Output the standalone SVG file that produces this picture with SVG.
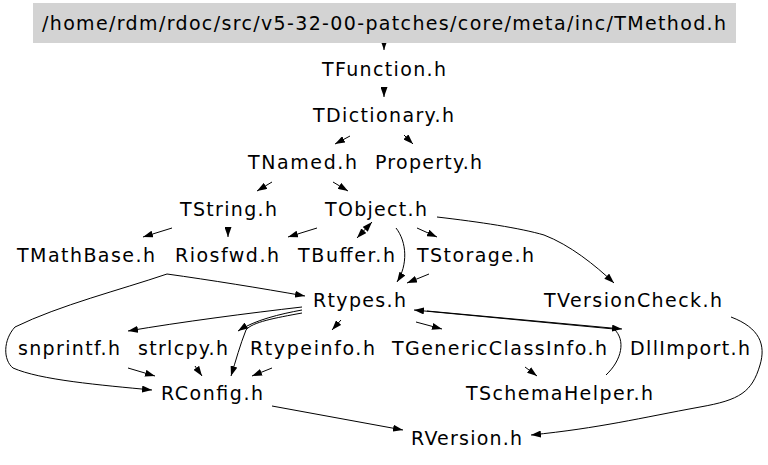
<svg xmlns="http://www.w3.org/2000/svg" width="768" height="465" viewBox="0 0 768 465">
<style>
text{font-family:"DejaVu Sans","Liberation Sans",sans-serif;font-size:19px;fill:#000;text-anchor:middle}
.e{fill:none;stroke:#000;stroke-width:1;marker-end:url(#ah)}
.b{marker-start:url(#ahs)}
</style>
<defs>
<marker id="ah" viewBox="0 0 10 7" refX="10" refY="3.5" markerWidth="10" markerHeight="7" markerUnits="userSpaceOnUse" orient="auto"><path d="M0,0 L10,3.5 L0,7 z" fill="#000"/></marker>
<marker id="ahs" viewBox="0 0 10 7" refX="10" refY="3.5" markerWidth="10" markerHeight="7" markerUnits="userSpaceOnUse" orient="auto-start-reverse"><path d="M0,0 L10,3.5 L0,7 z" fill="#000"/></marker>
</defs>
<rect width="768" height="465" fill="#fff"/>
<g id="connectors">
<path class="e" d="M384,42 L384,50"/>
<path class="e" d="M384,88 L384,97"/>
<path class="e" d="M350,136 L335,144"/>
<path class="e" d="M404,135 L413,144"/>
<path class="e" d="M272,182 L257,191"/>
<path class="e" d="M333,182 L348,191"/>
<path class="e" d="M172,228 L143,237"/>
<path class="e" d="M228,227 L228,237"/>
<path class="e" d="M317,228 L288,237"/>
<path class="e b" d="M372,222 L357,238"/>
<path class="e" d="M417,228 L437,237"/>
<path class="e" d="M396,228 C407,242 408,265 397,282"/>
<path class="e" d="M429,274 L407,283"/>
<path class="e" d="M437,217 C480,222 520,228 544,235 C570,245 595,265 614,283"/>
<path class="e" d="M167,274 C210,280 260,288 305,296"/>
<path class="e" d="M167,274 C120,290 60,305 15,327 C3,340 3,360 13,368 C40,380 100,385 152,390"/>
<path class="e" d="M302,307 C250,313 180,322 128,331"/>
<path class="e" d="M302,310 C280,314 255,320 238,331"/>
<path class="e" d="M302,313 C275,318 252,322 246,330 C240,345 236,360 231,376"/>
<path class="e" d="M195,366 L202,376"/>
<path class="e" d="M128,368 L155,376"/>
<path class="e" d="M272,368 L252,376"/>
<path class="e" d="M341,320 L332,330"/>
<path class="e" d="M416,322 L442,329"/>
<path class="e" d="M427,311 L622,329"/>
<path class="e" d="M606,375 C622,360 626,340 614,329 L414,310"/>
<path class="e" d="M525,367 L537,376"/>
<path class="e" d="M272,406 L403,430"/>
<path class="e" d="M731,317 C760,328 766,345 760,365 C752,392 740,400 700,407 C640,418 600,428 531,435"/>
</g>
<g id="n_TMethod"><rect x="33" y="3" width="703" height="40" fill="#d3d3d3"/><text x="384" y="30" textLength="684" lengthAdjust="spacing">/home/rdm/rdoc/src/v5-32-00-patches/core/meta/inc/TMethod.h</text></g>
<g id="n_TFunction"><text x="384" y="76" textLength="124" lengthAdjust="spacing">TFunction.h</text></g>
<g id="n_TDictionary"><text x="383.5" y="122" textLength="141" lengthAdjust="spacing">TDictionary.h</text></g>
<g id="n_TNamed"><text x="302.5" y="169" textLength="109" lengthAdjust="spacing">TNamed.h</text></g>
<g id="n_Property"><text x="428.5" y="169" textLength="107" lengthAdjust="spacing">Property.h</text></g>
<g id="n_TString"><text x="228.5" y="216" textLength="97" lengthAdjust="spacing">TString.h</text></g>
<g id="n_TObject"><text x="376" y="216" textLength="102" lengthAdjust="spacing">TObject.h</text></g>
<g id="n_TMathBase"><text x="86" y="262" textLength="138" lengthAdjust="spacing">TMathBase.h</text></g>
<g id="n_Riosfwd"><text x="227" y="262" textLength="104" lengthAdjust="spacing">Riosfwd.h</text></g>
<g id="n_TBuffer"><text x="346.5" y="262" textLength="97" lengthAdjust="spacing">TBuffer.h</text></g>
<g id="n_TStorage"><text x="475.5" y="262" textLength="117" lengthAdjust="spacing">TStorage.h</text></g>
<g id="n_Rtypes"><text x="359.5" y="307" textLength="93" lengthAdjust="spacing">Rtypes.h</text></g>
<g id="n_TVersionCheck"><text x="633" y="307" textLength="178" lengthAdjust="spacing">TVersionCheck.h</text></g>
<g id="n_snprintf"><text x="69" y="355" textLength="102" lengthAdjust="spacing">snprintf.h</text></g>
<g id="n_strlcpy"><text x="183" y="355" textLength="90" lengthAdjust="spacing">strlcpy.h</text></g>
<g id="n_Rtypeinfo"><text x="312.5" y="355" textLength="125" lengthAdjust="spacing">Rtypeinfo.h</text></g>
<g id="n_TGenericClassInfo"><text x="499.5" y="355" textLength="215" lengthAdjust="spacing">TGenericClassInfo.h</text></g>
<g id="n_DllImport"><text x="690" y="355" textLength="120" lengthAdjust="spacing">DllImport.h</text></g>
<g id="n_RConfig"><text x="212" y="400" textLength="102" lengthAdjust="spacing">RConfig.h</text></g>
<g id="n_TSchemaHelper"><text x="559.5" y="400" textLength="187" lengthAdjust="spacing">TSchemaHelper.h</text></g>
<g id="n_RVersion"><text x="466.5" y="445" textLength="111" lengthAdjust="spacing">RVersion.h</text></g>
</svg>
